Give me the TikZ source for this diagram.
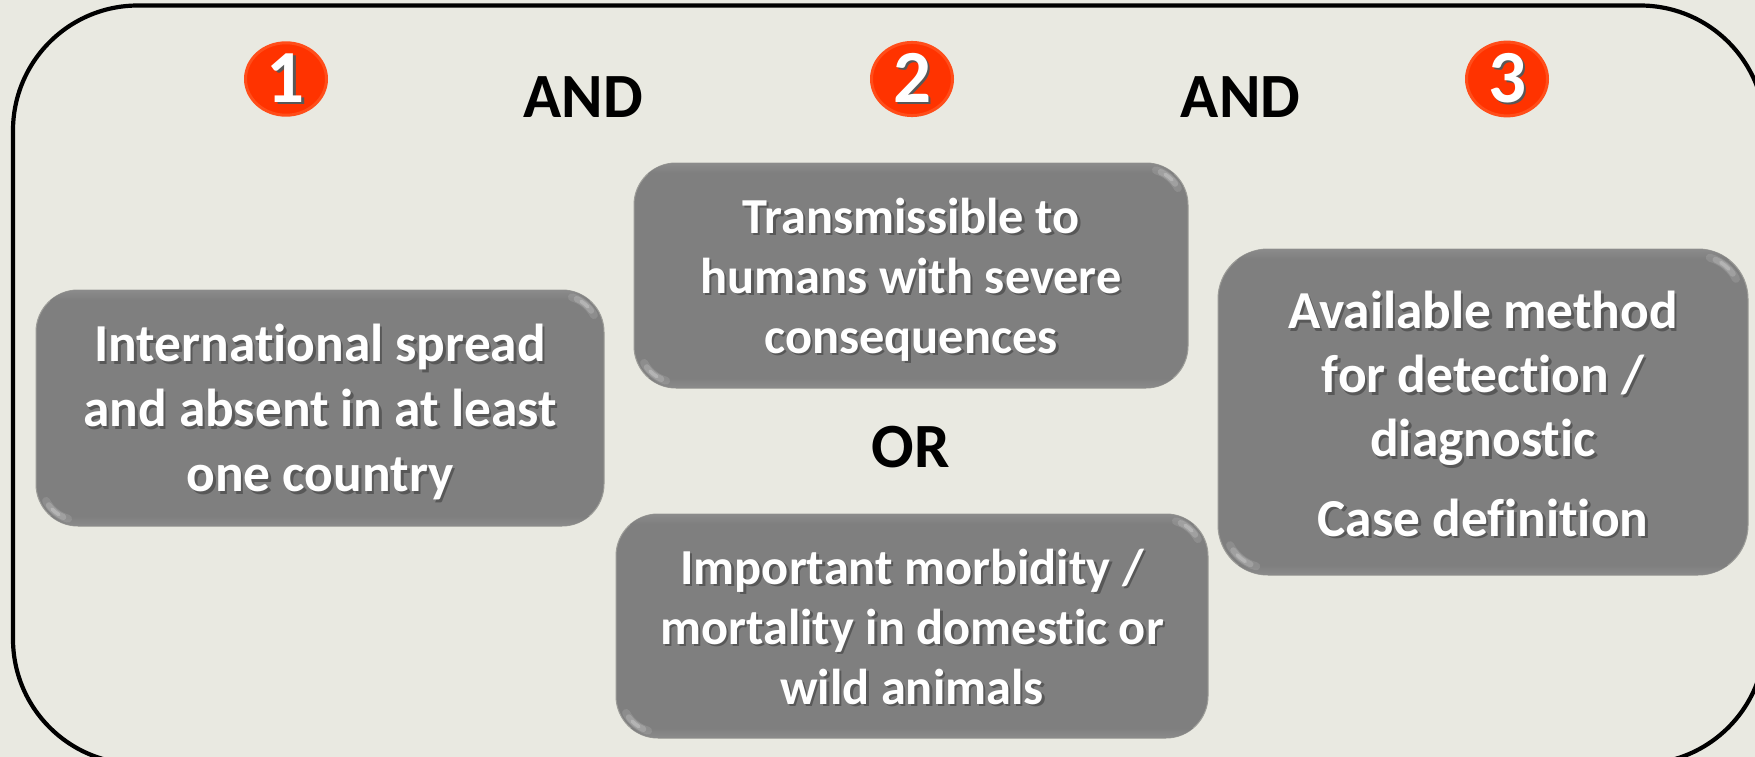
\documentclass[tikz,border=0pt]{standalone}
\usepackage{fontspec}
\setmainfont{Carlito}[Ligatures=NoCommon]
\usetikzlibrary{shadings,shapes.geometric}
\definecolor{pagebg}{HTML}{E9E9E1}
\definecolor{boxgrey}{HTML}{7F7F7F}
\definecolor{boxband}{HTML}{8B8B8B}
\definecolor{boxedge}{HTML}{9C9C98}
\definecolor{hilite}{HTML}{E4E4E4}
\definecolor{txtshadow}{HTML}{585858}
\definecolor{badge}{HTML}{FF3300}
\definecolor{badgeedge}{HTML}{FF4D1A}
\newcommand{\shl}[1]{\leavevmode\rlap{\kern2.5pt\raisebox{-2.5pt}{\textcolor{txtshadow}{#1}}}#1}
% corner glow: centre x, centre y, radius, start angle, end angle, line width, opacity
\newcommand{\glow}[7]{\draw[hilite,line width=#6pt,line cap=round,opacity=#7] ({#1+.86*#3*cos(#4)},{#2-.86*#3*sin(#4)}) arc[start angle=#4,end angle=#5,radius={.86*#3 pt}];}
\newcommand{\bevelbox}[5]{% x0,y0,x1,y1,radius
  \draw[draw=boxedge,line width=1pt,fill=boxgrey,rounded corners=#5pt] (#1,#2) rectangle (#3,#4);
  \begin{scope}
    \clip[rounded corners=#5pt] (#1,#2) rectangle (#3,#4);
    \shade[top color=boxband,bottom color=boxgrey] (#1,#2) rectangle (#3,#2+10);
    \shade[bottom color=boxband,top color=boxgrey] (#1,#4-10) rectangle (#3,#4);
    \glow{#3-#5}{#2+#5}{#5}{74}{28}{8}{.14}
    \glow{#3-#5}{#2+#5}{#5}{66}{36}{6}{.22}
    \glow{#3-#5}{#2+#5}{#5}{58}{44}{3.5}{.3}
    \glow{#1+#5}{#4-#5}{#5}{254}{208}{8}{.14}
    \glow{#1+#5}{#4-#5}{#5}{246}{216}{6}{.22}
    \glow{#1+#5}{#4-#5}{#5}{238}{224}{3.5}{.3}
  \end{scope}
}
\tikzset{
  x=1pt,y=-1pt,
  boxtext/.style={align=center,text=white,inner sep=0pt},
  bigtext/.style={boxtext,font=\fontsize{53.4}{#1}\selectfont\bfseries},
  smalltext/.style={boxtext,font=\fontsize{50.4}{#1}\selectfont\bfseries},
  joiner/.style={text=black,font=\fontsize{63}{63}\selectfont\bfseries,inner sep=0pt},
  numbadge/.style={ellipse,draw=badgeedge,line width=3pt,fill=badge,minimum width=81pt,minimum height=69pt,inner sep=0pt,text=white,font=\fontsize{75}{75}\selectfont\bfseries},
}
\begin{document}
\begin{tikzpicture}
\useasboundingbox (0,0) rectangle (1755,757);
\fill[pagebg] (0,0) rectangle (1755,757);
\begin{scope}
\clip (0,0) rectangle (1755,757);
\draw[black,line width=4.2pt,rounded corners=125pt] (13,5.5) rectangle (1765,764);
\end{scope}
\node[numbadge] (n1) at (286,79) {\shl{1}};
\node[numbadge] (n2) at (912,79) {\shl{2}};
\node[numbadge] (n3) at (1507,79) {\shl{3}};
\node[joiner] (and1) at (583,97) {AND};
\node[joiner] (and2) at (1240.5,97) {AND};
\node[joiner] (or) at (911,447) {OR};
\bevelbox{36}{290}{604}{526}{42}
\node[bigtext=65] (b1) at (320,413.5) {\shl{International spread}\\\shl{and absent in at least}\\\shl{one country}};
\bevelbox{634}{163}{1188}{388}{42}
\node[smalltext=60] (b2) at (911,281) {\shl{Transmissible to}\\\shl{humans with severe}\\\shl{consequences}};
\bevelbox{1218}{249}{1748}{575}{50}
\node[bigtext=64] (b3) at (1483,415) {\shl{Available method}\\\shl{for detection /}\\\shl{diagnostic}\\[15.5pt]\shl{Case definition}};
\bevelbox{616}{514}{1208}{738}{42}
\node[smalltext=60] (b4) at (912,628) {\shl{Important morbidity /}\\\shl{mortality in domestic or}\\\shl{wild animals}};
\end{tikzpicture}
\end{document}
